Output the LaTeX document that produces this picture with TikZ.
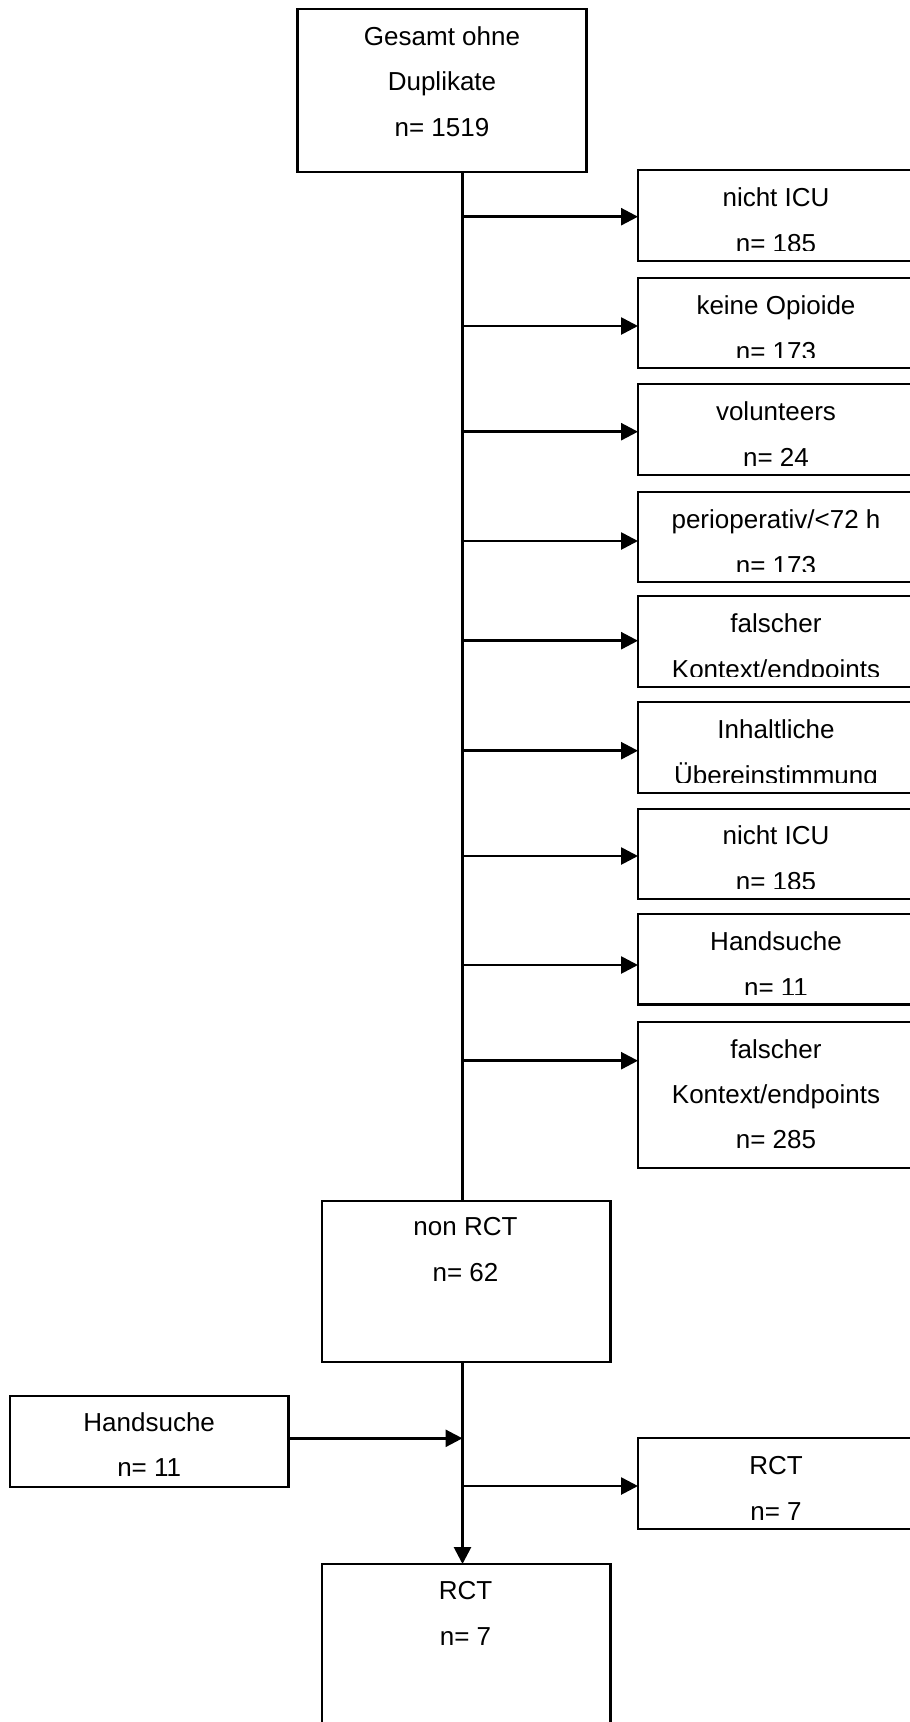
\documentclass[tikz,border=0pt]{standalone}
\usepackage{fontspec}
\setmainfont{Liberation Sans}
\usetikzlibrary{arrows.meta}
\tikzset{
  bx/.style={draw, line width=2.2pt, inner sep=0pt, outer sep=0pt},
  rb/.style={bx, minimum width=276pt},
  tx/.style={anchor=base, inner sep=0pt, outer sep=0pt, font=\fontsize{26}{31}\selectfont},
  ln/.style={line width=2.7pt},
  arr/.style={line width=2.7pt, -{Triangle[length=17pt,width=17pt]}}
}
\newcommand\mkrbox[7]{%
  \node[rb, minimum height={#3-#2}] (#1) at (776,{(#2+#3)/2}) {};
  \begin{scope}
    \clip (640,#2) rectangle (912,{#3-#7});
    \node[tx] (#1a) at (776,{#2+36}) {#5};
    \node[tx] (#1b) at (776,{#2+82}) {#6};
  \end{scope}
  \coordinate (#1j) at (462.5,#4);
  \draw[arr] (#1j) -- (#1j -| #1.west);
}
\begin{document}
\begin{tikzpicture}[x=1pt,y=-1pt]
\clip (0,0) rectangle (910,1722);
\fill[white] (0,0) rectangle (910,1722);
\coordinate (sp) at (462.5,0);
% top box
\node[bx, minimum width=289pt, minimum height=162.7pt] (top) at (442,90.4) {};
\node[tx] (topa) at (442,45) {Gesamt ohne};
\node[tx] (topb) at (442,90.7) {Duplikate};
\node[tx] (topc) at (442,136.4) {n= 1519};
% spine
\node[bx, minimum width=288.5pt, minimum height=161.6pt] (nonrct) at (466.3,1281.5) {};
\node[tx] (nonrcta) at (465.5,1235.7) {non RCT};
\node[tx] (nonrctb) at (465.5,1281.7) {n= 62};
\draw[ln] (top.south -| sp) -- (nonrct.north -| sp);
% right exclusion boxes
\mkrbox{r1}{170}{261}{216.7}{nicht ICU}{n= 185}{10.5}
\mkrbox{r2}{278.3}{368.3}{326}{keine Opioide}{n= 173}{10.5}
\mkrbox{r3}{384.3}{475}{431.7}{volunteers}{n= 24}{7}
\mkrbox{r4}{492.3}{582.3}{541}{perioperativ/<72 h}{n= 173}{10.5}
\mkrbox{r5}{596}{686.7}{640.7}{falscher}{Kontext/endpoints}{10.5}
\mkrbox{r6}{702.3}{792.7}{750.7}{Inhaltliche}{Übereinstimmung}{10.5}
\mkrbox{r7}{808.7}{899}{856}{nicht ICU}{n= 185}{10.5}
\mkrbox{r8}{914.3}{1004.5}{965}{Handsuche}{n= 11}{10.5}
% box 9 with three lines
\node[rb, minimum height=146.6pt] (r9) at (776,1095) {};
\node[tx] (r9a) at (776,1058.3) {falscher};
\node[tx] (r9b) at (776,1103.3) {Kontext/endpoints};
\node[tx] (r9c) at (776,1148.3) {n= 285};
\coordinate (r9j) at (462.5,1060.7);
\draw[arr] (r9j) -- (r9j -| r9.west);
% lower part
\node[bx, minimum width=278.5pt, minimum height=91pt] (hand) at (149.2,1441.2) {};
\node[tx] (handa) at (149.2,1431.7) {Handsuche};
\node[tx] (handb) at (149.2,1476.7) {n= 11};
\node[bx, minimum width=288.5pt, minimum height=162pt] (rct) at (466.3,1645) {};
\node[tx] (rcta) at (465.5,1599.3) {RCT};
\node[tx] (rctb) at (465.5,1645) {n= 7};
\draw[arr] (nonrct.south -| sp) -- (rct.north -| sp);
\coordinate (hj) at (462.5,1438.3);
\draw[arr] (hand.east |- hj) -- (hj);
\mkrbox{r10}{1438.3}{1529.3}{1486}{RCT}{n= 7}{6}
\end{tikzpicture}
\end{document}
